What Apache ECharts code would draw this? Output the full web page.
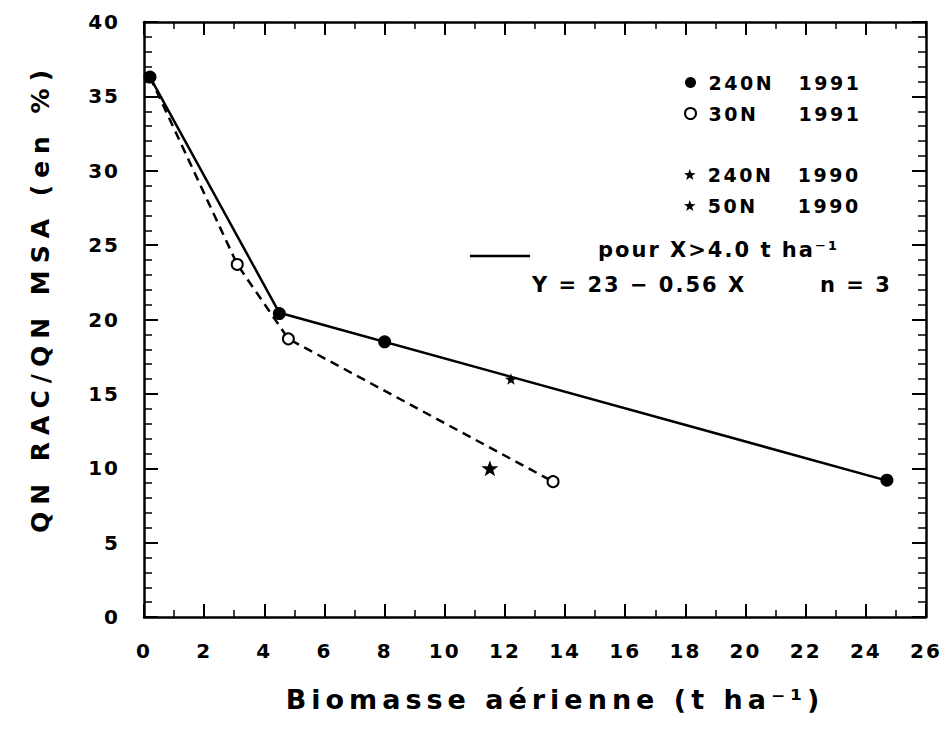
<!DOCTYPE html>
<html>
<head>
<meta charset="utf-8">
<script src="https://cdn.jsdelivr.net/npm/echarts@6/dist/echarts.min.js"></script>
<style>
html,body{margin:0;padding:0;background:#fff;}
#c{width:946px;height:733px;}
#c svg text[style*="19px"]{letter-spacing:2.5px;}
#c svg text[style*="20px"]{letter-spacing:2px;}
#c svg text[style*="21px"]{letter-spacing:2px;}
#c svg text[style*="25px"]{letter-spacing:7px;}
#c svg text[style*="27px"]{letter-spacing:5px;}
</style>
</head>
<body>
<div id="c"></div>
<script>
// ---- data ----
const xMin = 0, xMax = 26, xStep = 2;
const yMin = 0, yMax = 40, yStep = 5;
const seriesNames = ['240N 1991', '30N 1991', '240N 1990', '50N 1990'];
const filled1991 = [[0.2, 36.3], [4.5, 20.4], [8.0, 18.5], [24.7, 9.2]];
const open1991 = [[3.1, 23.7], [4.8, 18.7], [13.6, 9.1]];
const star240N1990 = [[12.2, 16.0]];
const star50N1990 = [[11.5, 10.0]];
const solidLine = [[0.2, 36.3], [4.5, 20.45], [24.7, 9.17]];
const dashedLine = [[0.2, 36.3], [3.1, 23.7], [4.8, 18.7], [13.6, 9.1]];
const xName = 'Biomasse aérienne (t ha⁻¹)';
const yName = 'QN RAC/QN MSA (en %)';
const fitText1 = 'pour X>4.0 t ha⁻¹';
const fitText2 = 'Y = 23 − 0.56 X';
const fitText3 = 'n = 3';

const FONT = 'DejaVu Sans';
const STAR = 'path://M0,-10L2.35,-3.24L9.51,-3.09L3.80,1.24L5.88,8.09L0,4L-5.88,8.09L-3.80,1.24L-9.51,-3.09L-2.35,-3.24Z';

const chart = echarts.init(document.getElementById('c'), null, {renderer: 'svg', width: 946, height: 733});

function axisBase(isX, pos, showLabel) {
  return {
    type: 'value',
    position: pos,
    min: isX ? xMin : yMin,
    max: isX ? xMax : yMax,
    interval: isX ? xStep : yStep,
    axisLine: {show: true, onZero: false, lineStyle: {color: '#000', width: 2.5}},
    axisTick: {show: true, inside: true, length: isX ? 13 : 14, lineStyle: {color: '#000', width: 2}},
    minorTick: {show: true, splitNumber: isX ? 2 : 5, length: isX ? 7 : 8, lineStyle: {color: '#000', width: 1.5}},
    splitLine: {show: false},
    axisLabel: {show: showLabel, margin: 24, color: '#000', fontSize: 20, fontWeight: 'bold', fontFamily: FONT}
  };
}

const xBottom = Object.assign(axisBase(true, 'bottom', true), {
  name: xName, nameLocation: 'middle', nameGap: 69,
  nameTextStyle: {fontSize: 27, fontWeight: 'bold', color: '#000', fontFamily: FONT, padding: [0, 0, 0, 40]}
});
const xTop = axisBase(true, 'top', false);
const yLeft = Object.assign(axisBase(false, 'left', true), {
  name: yName, nameLocation: 'middle', nameGap: 91,
  nameTextStyle: {fontSize: 25, fontWeight: 'bold', color: '#000', fontFamily: FONT, padding: [0, 0, 0, 43]}
});
const yRight = axisBase(false, 'right', false);

const richTxt = {
  a: {width: 90, fontSize: 19, fontWeight: 'bold', fontFamily: FONT, color: '#000', lineHeight: 21},
  b: {fontSize: 19, fontWeight: 'bold', fontFamily: FONT, color: '#000', lineHeight: 21}
};
function legendFmt(n) {
  const p = n.split(' ');
  return '{a|' + p[0] + '}{b|' + p[1] + '}';
}
function legendCfg(names, top) {
  return {
    data: names, orient: 'vertical', left: 679, top: top,
    itemWidth: 14, itemHeight: 11, itemGap: 12, selectedMode: false,
    formatter: legendFmt, textStyle: {rich: richTxt, padding: [0, 0, 0, 6]}
  };
}

const option = {
  animation: false,
  backgroundColor: '#fff',
  grid: {left: 144, right: 20, top: 22, bottom: 116},
  xAxis: [xBottom, xTop],
  yAxis: [yLeft, yRight],
  legend: [legendCfg(seriesNames.slice(0, 2), 68), legendCfg(seriesNames.slice(2, 4), 160)],
  series: [
    {type: 'line', name: 'line240', data: solidLine, symbol: 'none', silent: true,
     lineStyle: {color: '#000', width: 2.5}, z: 2},
    {type: 'line', name: 'line30', data: dashedLine, symbol: 'none', silent: true,
     lineStyle: {color: '#000', width: 2.5, type: [9, 6]}, z: 2},
    {type: 'scatter', name: seriesNames[0], data: filled1991, symbol: 'circle', symbolSize: 13,
     itemStyle: {color: '#000', opacity: 1}, z: 5},
    {type: 'scatter', name: seriesNames[1], data: open1991, symbol: 'circle', symbolSize: 11,
     itemStyle: {color: '#fff', borderColor: '#000', borderWidth: 2, opacity: 1}, z: 5},
    {type: 'scatter', name: seriesNames[2], data: star240N1990, symbol: STAR, symbolSize: 12, symbolKeepAspect: true,
     itemStyle: {color: '#000', opacity: 1}, z: 5},
    {type: 'scatter', name: seriesNames[3], data: star50N1990, symbol: STAR, symbolSize: 17, symbolKeepAspect: true,
     itemStyle: {color: '#000', opacity: 1}, z: 5}
  ],
  graphic: [
    {type: 'line', shape: {x1: 470, y1: 256, x2: 530, y2: 256}, style: {stroke: '#000', lineWidth: 2.5}},
    {type: 'text', x: 598, y: 250, style: {text: fitText1, fontSize: 21, fontWeight: 'bold', fontFamily: FONT, fill: '#000', align: 'left', verticalAlign: 'middle'}},
    {type: 'text', x: 532, y: 285, style: {text: fitText2, fontSize: 21, fontWeight: 'bold', fontFamily: FONT, fill: '#000', align: 'left', verticalAlign: 'middle'}},
    {type: 'text', x: 820, y: 285, style: {text: fitText3, fontSize: 21, fontWeight: 'bold', fontFamily: FONT, fill: '#000', align: 'left', verticalAlign: 'middle'}}
  ]
};
chart.setOption(option);
</script>
</body>
</html>
